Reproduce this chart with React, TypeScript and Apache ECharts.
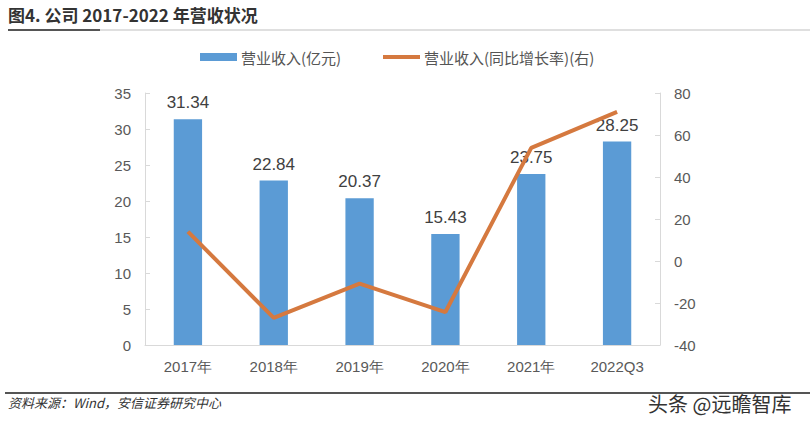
import React, { useEffect, useRef } from "react";
import * as echarts from "echarts";

const categories = ["2017年", "2018年", "2019年", "2020年", "2021年", "2022Q3"];
const revenue = [31.34, 22.84, 20.37, 15.43, 23.75, 28.25];
const growth = [14, -27.1, -10.8, -24.3, 53.9, 71];
const leftTicks = { min: 0, max: 35, interval: 5 };
const rightTicks = { min: -40, max: 80, interval: 20 };
const seriesNames = ["营业收入(亿元)", "营业收入(同比增长率)(右)"];

const titleText = "图4. 公司 2017-2022 年营收状况";
const sourceText = "资料来源：Wind，安信证券研究中心";
const watermark = "头条 @远瞻智库";

export default function App() {
  const ref = useRef<HTMLDivElement>(null);
  useEffect(() => {
    if (!ref.current) return;
    const chart = echarts.init(ref.current, null, { renderer: "svg" });
    const numFont = "'Liberation Sans', Arial, sans-serif";
    const cjk = "'Noto Sans CJK SC', sans-serif";
    const barColor = "#5B9BD5";
    const lineColor = "#D5793F";
    chart.setOption({
      animation: false,
      backgroundColor: "#ffffff",
      grid: { left: 145, right: 150, top: 93, bottom: 82, containLabel: false },
      xAxis: {
        type: "category",
        data: categories,
        axisLine: { lineStyle: { color: "#D9D9D9" } },
        axisTick: { inside: true, length: 5, lineStyle: { color: "#D9D9D9" } },
        axisLabel: { fontFamily: numFont, fontSize: 15, color: "#595959", margin: 14 },
      },
      yAxis: [
        {
          type: "value",
          min: leftTicks.min,
          max: leftTicks.max,
          interval: leftTicks.interval,
          axisLine: { show: true, lineStyle: { color: "#D9D9D9" } },
          axisTick: { show: true, inside: true, length: 5, lineStyle: { color: "#D9D9D9" } },
          splitLine: { show: false },
          axisLabel: { fontFamily: numFont, fontSize: 15, color: "#595959", margin: 14 },
        },
        {
          type: "value",
          min: rightTicks.min,
          max: rightTicks.max,
          interval: rightTicks.interval,
          position: "right",
          axisLine: { show: true, lineStyle: { color: "#D9D9D9" } },
          axisTick: { show: true, inside: true, length: 5, lineStyle: { color: "#D9D9D9" } },
          splitLine: { show: false },
          axisLabel: { fontFamily: numFont, fontSize: 15, color: "#595959", margin: 14 },
        },
      ],
      series: [
        {
          name: seriesNames[0],
          type: "bar",
          data: revenue,
          barWidth: "33%",
          itemStyle: { color: barColor },
          label: {
            show: true,
            position: "top",
            distance: 8,
            fontFamily: numFont,
            fontSize: 17,
            color: "#404040",
            formatter: (p: any) => p.value.toFixed(2),
          },
        },
        {
          name: seriesNames[1],
          type: "line",
          yAxisIndex: 1,
          data: growth,
          symbol: "none",
          lineStyle: { color: lineColor, width: 4 },
          itemStyle: { color: lineColor },
        },
      ],
      graphic: [
        {
          type: "text",
          left: 8,
          top: 6,
          style: { text: titleText, fontFamily: cjk, fontSize: 17, fontWeight: "bold", fill: "#333333" },
        },
        { type: "line", shape: { x1: 8, y1: 30, x2: 810, y2: 30 }, style: { stroke: "#BFBFBF", lineWidth: 1 } },
        { type: "line", shape: { x1: 8, y1: 30, x2: 100, y2: 30 }, style: { stroke: "#555555", lineWidth: 2 } },
        // legend
        { type: "rect", shape: { x: 200, y: 53, width: 37, height: 8 }, style: { fill: barColor } },
        {
          type: "text",
          x: 241,
          y: 57,
          style: { text: seriesNames[0], fontFamily: cjk, fontSize: 15, fill: "#555555", verticalAlign: "middle" },
        },
        { type: "line", shape: { x1: 383, y1: 57, x2: 420, y2: 57 }, style: { stroke: lineColor, lineWidth: 4 } },
        {
          type: "text",
          x: 424,
          y: 57,
          style: { text: seriesNames[1], fontFamily: cjk, fontSize: 15, fill: "#555555", verticalAlign: "middle" },
        },
        { type: "line", shape: { x1: 5, y1: 393, x2: 810, y2: 393 }, style: { stroke: "#555555", lineWidth: 2 } },
        {
          type: "text",
          left: 8,
          top: 396,
          style: { text: sourceText, fontFamily: cjk, fontSize: 13, fontStyle: "italic", fill: "#333333" },
        },
        {
          type: "text",
          left: 648,
          top: 393,
          style: { text: watermark, fontFamily: cjk, fontSize: 20, fill: "#333333" },
        },
      ],
    });
    return () => chart.dispose();
  }, []);
  return <div ref={ref} style={{ position: "fixed", left: 0, top: 0, width: 810, height: 427 }} />;
}
